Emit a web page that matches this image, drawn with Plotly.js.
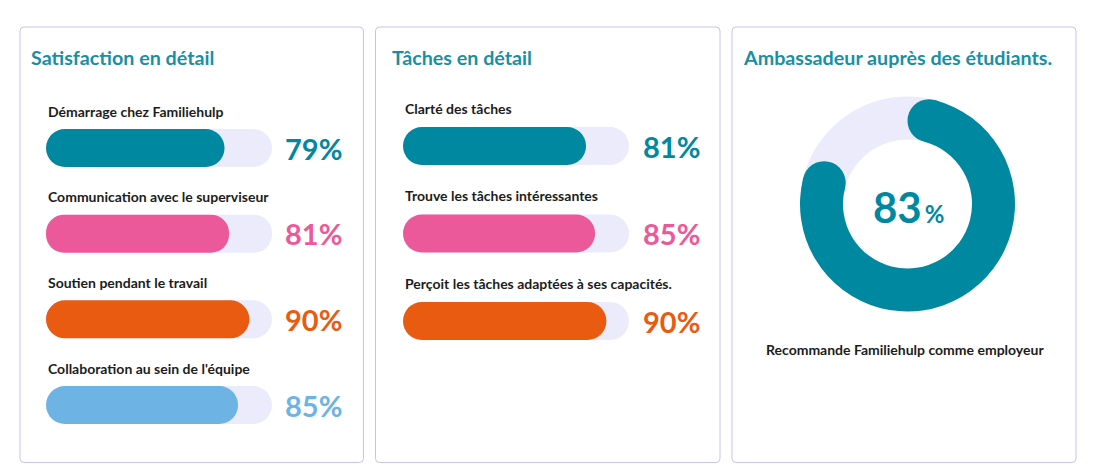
<!DOCTYPE html>
<html><head><meta charset="utf-8">
<script src="https://cdn.plot.ly/plotly-3.0.1.min.js"></script>
<style>html,body{margin:0;padding:0;background:#fff;}#chart{width:1110px;height:476px;}</style>
</head><body><div id="chart"></div>
<script>
// ---------- data ----------
const panelTitles = ["Satisfaction en détail", "Tâches en détail", "Ambassadeur auprès des étudiants."];
const satisfactionLabels = ["Démarrage chez Familiehulp", "Communication avec le superviseur", "Soutien pendant le travail", "Collaboration au sein de l'équipe"];
const satisfactionValues = [79, 81, 90, 85];
const tachesLabels = ["Clarté des tâches", "Trouve les tâches intéressantes", "Perçoit les tâches adaptées à ses capacités."];
const tachesValues = [81, 85, 90];
const ambassadeurValue = 83;
const ambassadeurLabel = "Recommande Familiehulp comme employeur";

// ---------- styles ----------
const W = 1110, H = 476;
const FONT = "Lato, 'Open Sans', sans-serif";
const TEAL = "#0088a0", PINK = "#ec599b", ORANGE = "#ea5b12", BLUE = "#6db4e4";
const TRACK = "#ebebfc", TITLE = "#1a8fa3", INK = "#1c1c1c", BORDER = "#c9c3ea";
const satColors = [TEAL, PINK, ORANGE, BLUE];
const tacColors = [TEAL, PINK, ORANGE];

const px = v => v / W;          // x pixel -> paper
const py = v => 1 - v / H;      // y pixel -> paper

function pillTraces(labels, values, colors, xa, ya, width) {
  const common = {type: 'bar', orientation: 'h', y: labels, xaxis: xa, yaxis: ya, width: width,
                  base: labels.map(() => 0), hoverinfo: 'skip', showlegend: false};
  return [
    Object.assign({}, common, {x: labels.map(() => 100), marker: {color: TRACK, cornerradius: '50%', line: {width: 0}}}),
    Object.assign({}, common, {x: values, marker: {color: colors, cornerradius: '50%', line: {width: 0}}})
  ];
}

function rowAnnotations(labels, values, colors, xa, ya, labelShift, pctShift) {
  const out = [];
  labels.forEach((lab, i) => {
    out.push({xref: xa, yref: ya, x: 0, y: lab, xanchor: 'left', yanchor: 'middle', yshift: labelShift,
              text: lab, showarrow: false, font: {family: FONT, size: 14, weight: 700, color: INK}});
    out.push({xref: xa, yref: ya, x: 100, y: lab, xanchor: 'left', yanchor: 'middle', xshift: pctShift,
              text: values[i] + '%', showarrow: false, font: {family: FONT, size: 29, weight: 700, color: colors[i]}});
  });
  return out;
}

function roundRect(x0, y0, x1, y1, r) {
  const X = px, Y = py;
  return `M${X(x0 + r)},${Y(y0)} L${X(x1 - r)},${Y(y0)} Q${X(x1)},${Y(y0)} ${X(x1)},${Y(y0 + r)} ` +
         `L${X(x1)},${Y(y1 - r)} Q${X(x1)},${Y(y1)} ${X(x1 - r)},${Y(y1)} L${X(x0 + r)},${Y(y1)} ` +
         `Q${X(x0)},${Y(y1)} ${X(x0)},${Y(y1 - r)} L${X(x0)},${Y(y0 + r)} Q${X(x0)},${Y(y0)} ${X(x0 + r)},${Y(y0)} Z`;
}

// ---------- geometry ----------
const sat = {x0: 46, x1: 272, top: 148, step: 85.67};
const tac = {x0: 403, x1: 629, top: 146, step: 87.5};
const barPx = 38;

const n1 = satisfactionLabels.length, n2 = tachesLabels.length;

// donut geometry
const dcx = 907.5, dcy = 204, dR = 107.5, hole = 0.6;
const midR = dR * (1 + hole) / 2, capR = dR * (1 - hole) / 2;
const capDeg = Math.asin(capR / midR) * 180 / Math.PI;
const totalDeg = ambassadeurValue * 3.6;
const bodyDeg = totalDeg - 2 * capDeg;

const traces = [].concat(
  pillTraces(satisfactionLabels, satisfactionValues, satColors, 'x', 'y', barPx / sat.step),
  pillTraces(tachesLabels, tachesValues, tacColors, 'x2', 'y2', barPx / tac.step),
  [{type: 'pie', values: [bodyDeg, 360 - bodyDeg], sort: false, direction: 'clockwise', rotation: capDeg,
    hole: hole, marker: {colors: [TEAL, TRACK], line: {width: 0}}, textinfo: 'none', hoverinfo: 'skip',
    showlegend: false, domain: {x: [px(dcx - dR), px(dcx + dR)], y: [py(dcy + dR), py(dcy - dR)]}}]
);

function capShape(deg) {
  const a = deg * Math.PI / 180;
  const cx = dcx + midR * Math.sin(a), cy = dcy - midR * Math.cos(a);
  return {type: 'circle', xref: 'paper', yref: 'paper', layer: 'above',
          x0: px(cx - capR), x1: px(cx + capR), y0: py(cy + capR), y1: py(cy - capR),
          fillcolor: TEAL, line: {width: 0}};
}

const panels = [[20, 27, 363.5, 462.5], [375.5, 27, 720, 462.5], [732, 27, 1076, 462.5]];
const shapes = panels.map(p => ({type: 'path', xref: 'paper', yref: 'paper', layer: 'below',
  path: roundRect(p[0], p[1], p[2], p[3], 4), line: {color: BORDER, width: 1}, fillcolor: 'rgba(0,0,0,0)'}))
  .concat([capShape(capDeg), capShape(totalDeg - capDeg)]);

const titleX = [29, 390, 741];
const annotations = []
  .concat(panelTitles.map((t, i) => ({xref: 'paper', yref: 'paper', x: px(titleX[i]), y: py(57), xanchor: 'left', yanchor: 'middle',
    text: t, showarrow: false, font: {family: FONT, size: 19.7, weight: 700, color: TITLE}})))
  .concat(rowAnnotations(satisfactionLabels, satisfactionValues, satColors, 'x', 'y', 37, 11))
  .concat(rowAnnotations(tachesLabels, tachesValues, tacColors, 'x2', 'y2', 38, 12))
  .concat([
    {xref: 'paper', yref: 'paper', x: px(908.5), y: py(206.5), xanchor: 'center', yanchor: 'middle', showarrow: false,
     text: ambassadeurValue + "<span style='font-size:24px'>\u2009%</span>", font: {family: FONT, size: 42, weight: 700, color: TEAL}},
    {xref: 'paper', yref: 'paper', x: px(905), y: py(349), xanchor: 'center', yanchor: 'middle', showarrow: false,
     text: ambassadeurLabel, font: {family: FONT, size: 14, weight: 700, color: INK}}
  ]);

const hiddenAxis = {showgrid: false, zeroline: false, showticklabels: false, ticks: '', showline: false, fixedrange: true};

const layout = {
  width: W, height: H, margin: {l: 0, r: 0, t: 0, b: 0}, paper_bgcolor: '#ffffff', plot_bgcolor: 'rgba(0,0,0,0)',
  barmode: 'overlay', showlegend: false, font: {family: FONT},
  xaxis: Object.assign({}, hiddenAxis, {domain: [px(sat.x0), px(sat.x1)], range: [0, 100], anchor: 'y'}),
  yaxis: Object.assign({}, hiddenAxis, {type: 'category', categoryorder: 'array', categoryarray: satisfactionLabels,
    domain: [py(sat.top + (n1 - 0.5) * sat.step), py(sat.top - 0.5 * sat.step)], range: [n1 - 0.5, -0.5], anchor: 'x'}),
  xaxis2: Object.assign({}, hiddenAxis, {domain: [px(tac.x0), px(tac.x1)], range: [0, 100], anchor: 'y2'}),
  yaxis2: Object.assign({}, hiddenAxis, {type: 'category', categoryorder: 'array', categoryarray: tachesLabels,
    domain: [py(tac.top + (n2 - 0.5) * tac.step), py(tac.top - 0.5 * tac.step)], range: [n2 - 0.5, -0.5], anchor: 'x2'}),
  shapes: shapes,
  annotations: annotations
};

Plotly.newPlot('chart', traces, layout, {displayModeBar: false, staticPlot: true});
</script>
</body></html>
